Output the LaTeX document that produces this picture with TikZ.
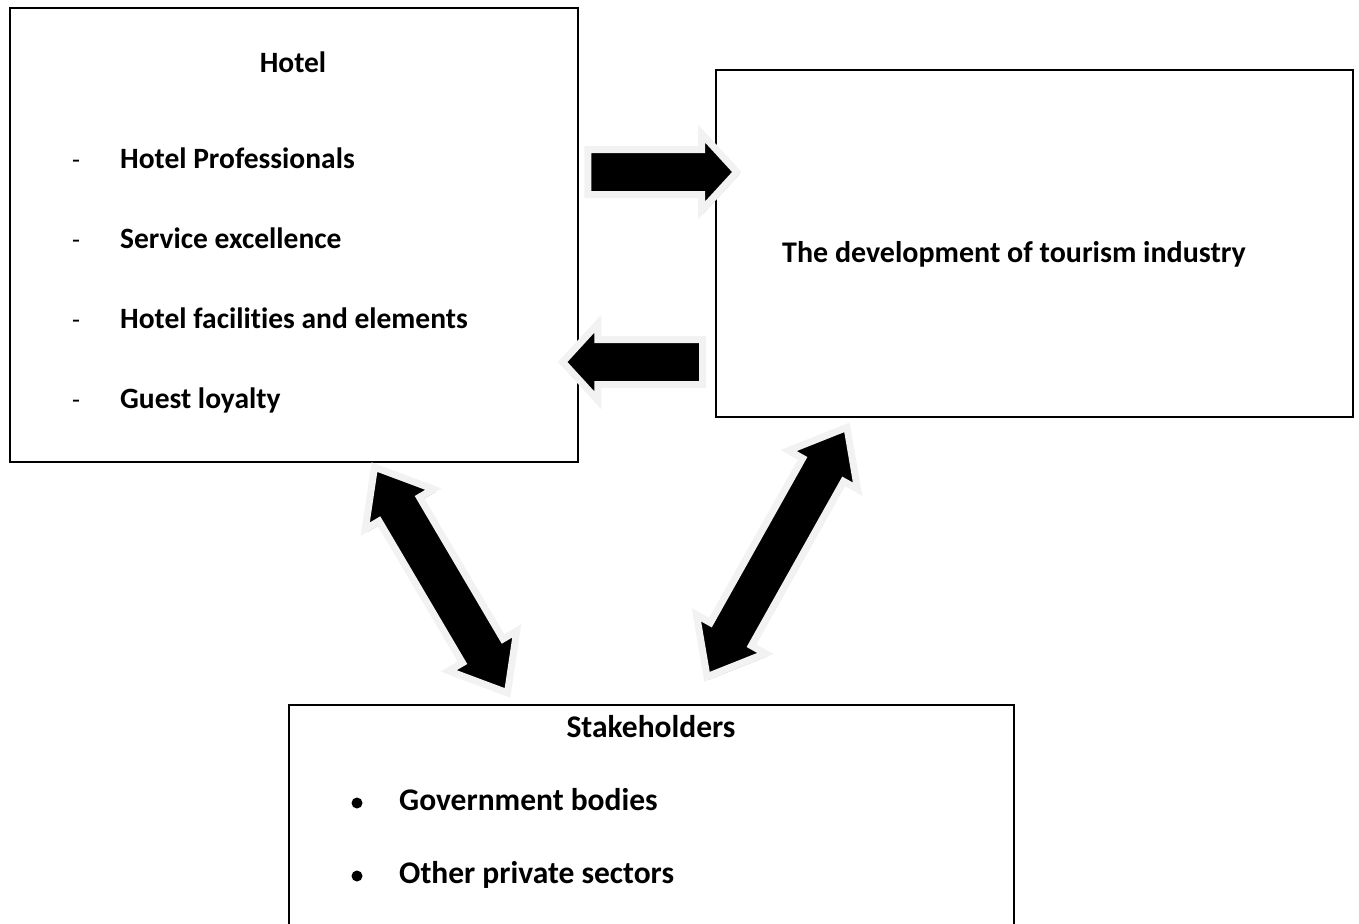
\documentclass[tikz,border=0pt]{standalone}
\usepackage{fontspec}
\setmainfont{Carlito}[Ligatures=NoCommon]
\usetikzlibrary{shapes.arrows,shadows}

\tikzset{
  box/.style={draw, line width=1.6pt, anchor=north west, inner sep=0pt},
  item/.style={anchor=west, inner sep=0pt, text height=21pt, text depth=7pt},
  blockarrow/.style={single arrow, fill=black, draw=gray!10, line width=7pt,
    inner xsep=0pt, inner ysep=19pt, single arrow head extend=16pt,
    single arrow tip angle=95,
    drop shadow={shadow xshift=2pt, shadow yshift=-3pt, fill=gray!55, opacity=1}},
  twoarrow/.style={double arrow, fill=black, draw=gray!10, line width=7pt,
    inner xsep=0pt, inner ysep=20pt, double arrow head extend=16pt,
    double arrow tip angle=78,
    drop shadow={shadow xshift=2pt, shadow yshift=-3pt, fill=gray!55, opacity=1}},
}

\begin{document}
\begin{tikzpicture}[x=1pt, y=-1pt]

  \bfseries

  \useasboundingbox (0,0) rectangle (1359,923);

  % boxes
  \node[box, minimum width=568pt, minimum height=454pt] (hotel) at (9,7) {};
  \node[box, minimum width=637pt, minimum height=347pt] (dev) at (715,69) {};
  \draw[line width=1.6pt] (289,930) |- (1014,705) -- (1014,930);
  \coordinate (stake) at (651,705);

  % hotel text
  \begin{scope}[font=\fontsize{29.5}{34}\selectfont\bfseries]
  \node (hoteltitle) at (293,62) {Hotel};
  \foreach \t/\y [count=\i] in {Hotel Professionals/161, Service excellence/241,
      Hotel facilities and elements/321, Guest loyalty/401}{
    \node[item, font=\fontsize{26}{30}\selectfont\mdseries] (dash\i) at (72,\y) {-};
    \node[item] (hitem\i) at (120,\y) {\t};
  }
  \end{scope}

  \node[font=\fontsize{30}{36}\selectfont\bfseries] (devtext) at (1014,254)
    {The development of tourism industry};

  % stakeholders text
  \begin{scope}[font=\fontsize{31.5}{36}\selectfont\bfseries]
  \node (staketitle) at (651,727) {Stakeholders};
  \foreach \t/\y [count=\i] in {Government bodies/803, Other private sectors/876}{
    \fill (357,\y) circle (5.5pt);
    \node[item] (sitem\i) at (399,\y) {\t};
  }
  \end{scope}

  % block arrows
  \node[blockarrow, minimum height=149pt] (toDev) at (652,172) {};
  \node[blockarrow, minimum height=140pt, rotate=180] (toHotel) at (643,362) {};
  \node[twoarrow, minimum height=262pt, rotate=-59.5] (hotelStake) at (441,580) {};
  \node[twoarrow, minimum height=286pt, rotate=60.7] (devStake) at (777,552) {};

\end{tikzpicture}
\end{document}
